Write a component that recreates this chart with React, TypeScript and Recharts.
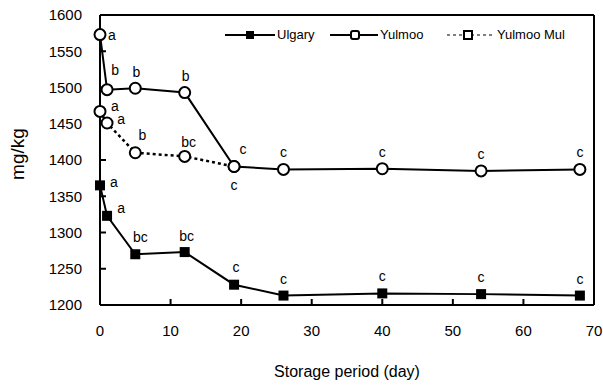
import React from "react";
import {
  LineChart,
  Line,
  XAxis,
  YAxis,
  ReferenceLine,
  LabelList,
} from "recharts";

// storage days and measured contents (mg/kg)
const days = [0, 1, 5, 12, 19, 26, 40, 54, 68];
const ulgary = [1365, 1323, 1270, 1273, 1228, 1213, 1216, 1215, 1213];
const yulmoo = [1573, 1497, 1499, 1493, 1391, 1387, 1388, 1385, 1387];
const yulmooMul = [1467, 1451, 1410, 1405, 1391];

// significance letters
const ulgaryLetters = ["a", "a", "bc", "bc", "c", "c", "c", "c", "c"];
const yulmooLetters = ["a", "b", "b", "b", "c", "c", "c", "c", "c"];
const yulmooMulLetters = ["a", "a", "b", "bc", "c"];

const xTicks = [0, 10, 20, 30, 40, 50, 60, 70];
const yTicks = [1200, 1250, 1300, 1350, 1400, 1450, 1500, 1550, 1600];

// label offsets from each point (layout only)
const ulgaryOffsets = [[14, -3], [14, -8], [5, -17], [2, -16], [2, -18], [0, -17], [0, -17], [0, -17], [0, -17]];
const yulmooOffsets = [[12, 0], [8, -20], [1, -16], [1, -17], [9, -18], [0, -17], [0, -17], [0, -17], [0, -17]];
const yulmooMulOffsets = [[15, -5], [14, -4], [7, -18], [4, -14], [0, 18]];

const data = days.map((d, i) => ({
  day: d,
  ulgary: ulgary[i],
  yulmoo: yulmoo[i],
  yulmooMul: i < yulmooMul.length ? yulmooMul[i] : null,
  uL: ulgaryLetters[i],
  yL: yulmooLetters[i],
  mL: yulmooMulLetters[i] ?? null,
}));

const FONT = "'Liberation Sans', Arial, sans-serif";

const letterLabel = (offsets: number[][]) => (props: any) => {
  const { x, y, index, value } = props;
  if (value == null || x == null || y == null) return null;
  const off = offsets[index] || [0, -17];
  return (
    <text
      x={x + off[0]}
      y={y + off[1]}
      textAnchor="middle"
      dominantBaseline="central"
      fontSize={14}
      fontFamily={FONT}
      fill="#000"
    >
      {value}
    </text>
  );
};

const SquareDot = (props: any) => {
  const { cx, cy } = props;
  if (cx == null || cy == null) return null;
  return <rect x={cx - 5} y={cy - 5} width={10} height={10} fill="#000" />;
};

const CircleDot = (props: any) => {
  const { cx, cy } = props;
  if (cx == null || cy == null) return null;
  return <circle cx={cx} cy={cy} r={5.5} fill="#fff" stroke="#000" strokeWidth={2} />;
};

const LegendBox = () => (
  <svg width={380} height={20} style={{ display: "block", overflow: "visible" }}>
    <line x1={5} y1={10} x2={55} y2={10} stroke="#000" strokeWidth={2} />
    <rect x={26} y={6} width={8} height={8} fill="#000" />
    <text x={57} y={14} fontSize={13} fontFamily={FONT}>Ulgary</text>
    <line x1={110} y1={10} x2={158} y2={10} stroke="#000" strokeWidth={2} />
    <rect x={131} y={6} width={8} height={8} rx={2} fill="#fff" stroke="#000" strokeWidth={2} />
    <text x={160} y={14} fontSize={13} fontFamily={FONT}>Yulmoo</text>
    <line x1={227} y1={10} x2={273} y2={10} stroke="#000" strokeWidth={1} strokeDasharray="3 3" />
    <rect x={244} y={6} width={8} height={8} fill="#fff" stroke="#000" strokeWidth={2} />
    <text x={277} y={14} fontSize={13} fontFamily={FONT}>Yulmoo Mul</text>
  </svg>
);

export default function App() {
  return (
    <div style={{ position: "absolute", left: 0, top: 0, width: 603, height: 385, background: "#fff" }}>
      <LineChart
        width={603}
        height={385}
        data={data}
        margin={{ top: 15, right: 9, bottom: 0, left: 0 }}
      >
        <XAxis
          dataKey="day"
          type="number"
          domain={[0, 70]}
          ticks={xTicks}
          height={80}
          axisLine={{ stroke: "#000", strokeWidth: 2 }}
          tickLine={{ stroke: "#000", strokeWidth: 2 }}
          tickSize={-6}
          tickMargin={26}
          tick={{ fill: "#000", fontSize: 15, fontFamily: FONT }}
          label={{
            value: "Storage period (day)",
            position: "insideBottom",
            offset: 8,
            style: { fontSize: 16, fontFamily: FONT, fill: "#000" },
          }}
        />
        <YAxis
          type="number"
          domain={[1200, 1600]}
          ticks={yTicks}
          width={100}
          axisLine={{ stroke: "#000", strokeWidth: 2 }}
          tickLine={{ stroke: "#000", strokeWidth: 2 }}
          tickSize={-6}
          tickMargin={24}
          tick={{ fill: "#000", fontSize: 15, fontFamily: FONT }}
          label={{
            value: "mg/kg",
            angle: -90,
            position: "insideLeft",
            offset: 17,
            dy: -6,
            style: { fontSize: 19, fontFamily: FONT, fill: "#000", textAnchor: "middle" },
          }}
        />
        <ReferenceLine y={1600} stroke="#000" strokeWidth={2} />
        <ReferenceLine x={70} stroke="#000" strokeWidth={2} />
        <Line
          dataKey="yulmooMul"
          stroke="#000"
          strokeWidth={2.5}
          strokeDasharray="3 3"
          dot={<CircleDot />}
          isAnimationActive={false}
          connectNulls={false}
        >
          <LabelList dataKey="mL" content={letterLabel(yulmooMulOffsets)} />
        </Line>
        <Line
          dataKey="yulmoo"
          stroke="#000"
          strokeWidth={2}
          dot={<CircleDot />}
          isAnimationActive={false}
        >
          <LabelList dataKey="yL" content={letterLabel(yulmooOffsets)} />
        </Line>
        <Line
          dataKey="ulgary"
          stroke="#000"
          strokeWidth={2}
          dot={<SquareDot />}
          isAnimationActive={false}
        >
          <LabelList dataKey="uL" content={letterLabel(ulgaryOffsets)} />
        </Line>
      </LineChart>
      <div style={{ position: "absolute", left: 220, top: 25 }}>
        <LegendBox />
      </div>
    </div>
  );
}
